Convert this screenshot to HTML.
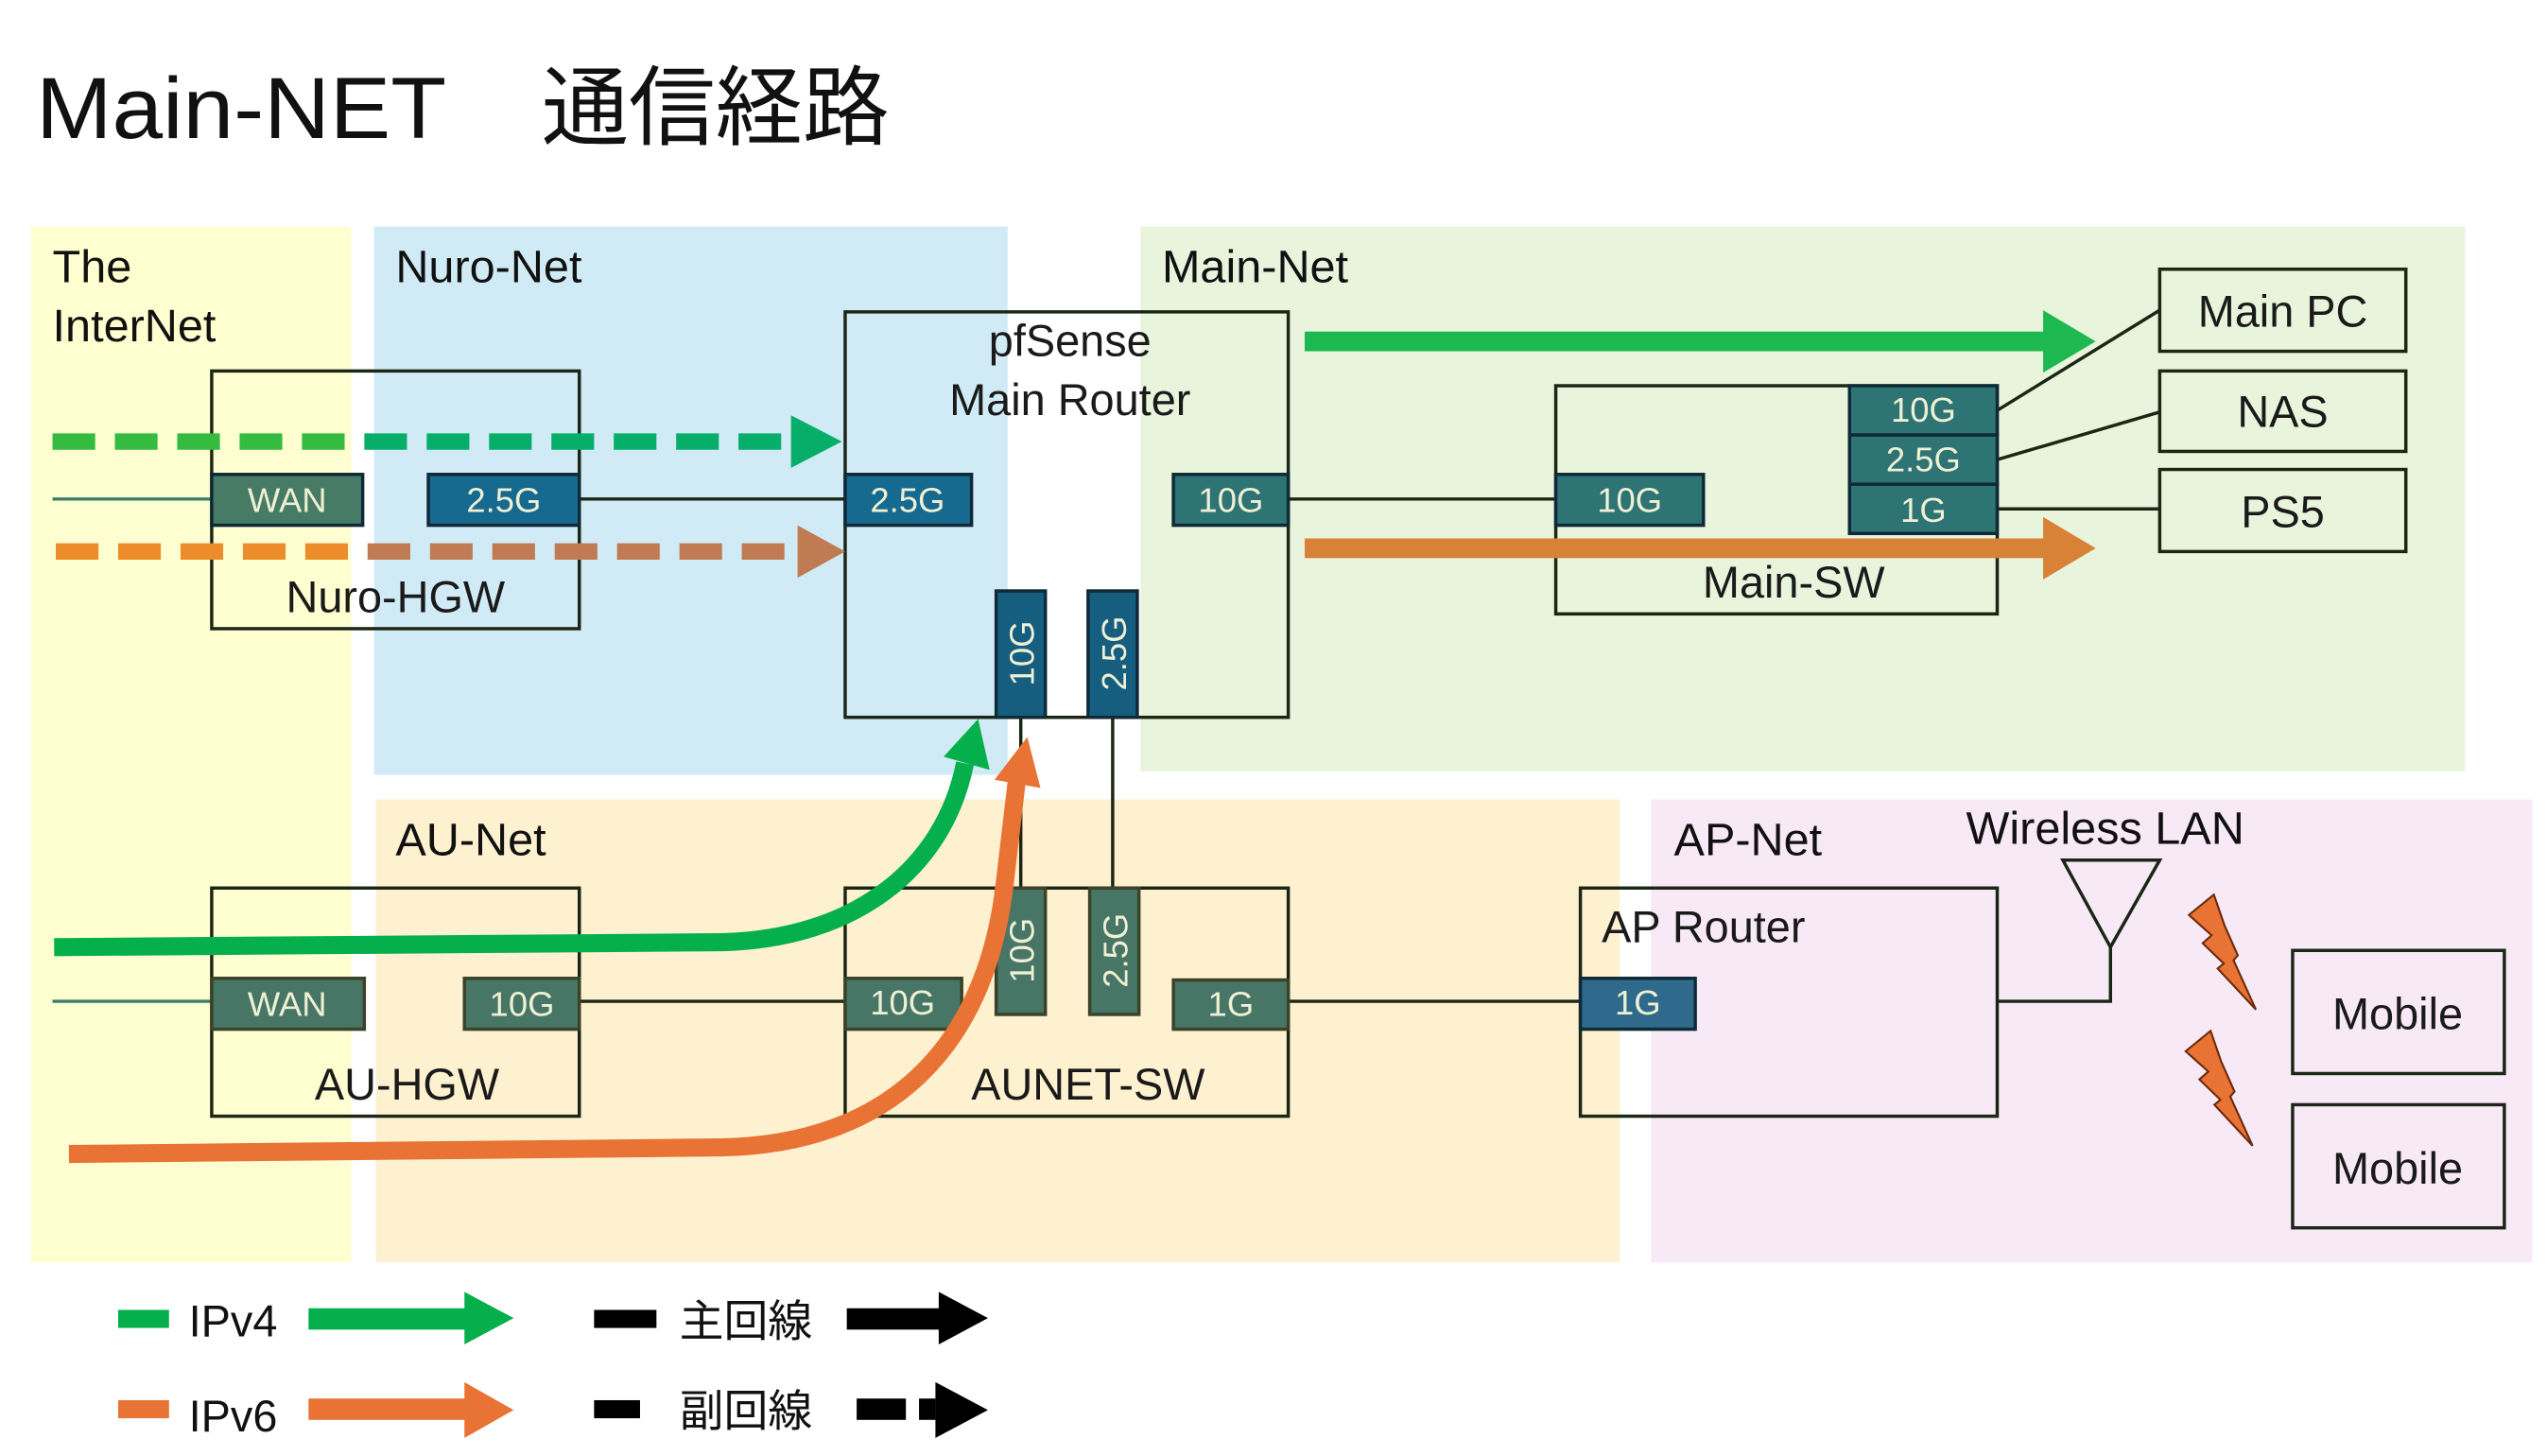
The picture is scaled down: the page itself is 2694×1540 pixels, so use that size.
<!DOCTYPE html>
<html><head><meta charset="utf-8"><style>
html,body{margin:0;padding:0;background:#fff;}
svg{display:block;}
text{font-family:"Liberation Sans","Noto Sans CJK JP",sans-serif;}
</style></head><body>
<svg width="2694" height="1540" viewBox="0 0 1552 887" preserveAspectRatio="none" xmlns="http://www.w3.org/2000/svg">
<defs>
<clipPath id="cy"><rect x="0" y="0" width="214" height="887"/></clipPath>
<clipPath id="cb"><rect x="214" y="0" width="1400" height="887"/></clipPath>
</defs>
<!-- title -->
<text x="22" y="84" font-size="53" fill="#111" textLength="250" lengthAdjust="spacingAndGlyphs">Main-NET</text>
<text x="330" y="84" font-size="53" fill="#111" textLength="212" lengthAdjust="spacingAndGlyphs">通信経路</text>
<!-- zones -->
<rect x="19" y="138" width="195" height="631" fill="#fefed0"/>
<rect x="228" y="138" width="386" height="334" fill="#d0ebf6"/>
<rect x="695" y="138" width="807" height="332" fill="#e8f4dc"/>
<rect x="229" y="487" width="758" height="282" fill="#fdf1d0"/>
<rect x="1006" y="487" width="537" height="282" fill="#f8e9f7"/>
<g font-size="28" fill="#111">
<text x="32" y="172">The</text>
<text x="32" y="208">InterNet</text>
<text x="241" y="172">Nuro-Net</text>
<text x="708" y="172">Main-Net</text>
<text x="241" y="521">AU-Net</text>
<text x="1020" y="521">AP-Net</text>
<text x="1198" y="514">Wireless LAN</text>
</g>
<!-- connection lines -->
<g stroke="#1c2616" stroke-width="2" fill="none">
<line x1="32" y1="304" x2="129" y2="304" stroke="#3f7d6a"/>
<line x1="353" y1="304" x2="515" y2="304"/>
<line x1="785" y1="304" x2="948" y2="304"/>
<line x1="32" y1="610" x2="129" y2="610" stroke="#3f7d6a"/>
<line x1="353" y1="610" x2="515" y2="610"/>
<line x1="785" y1="610" x2="963" y2="610"/>
<line x1="622" y1="437" x2="622" y2="541"/>
<line x1="678" y1="437" x2="678" y2="541"/>
<line x1="1217" y1="250" x2="1316" y2="189"/>
<line x1="1217" y1="280" x2="1316" y2="251"/>
<line x1="1217" y1="310" x2="1316" y2="310"/>
<polyline points="1217,610 1286,610 1286,577"/>
<polygon points="1257,524 1316,524 1286,577"/>
</g>
<!-- boxes -->
<g stroke="#1c2616" stroke-width="2" fill="none">
<rect x="129" y="226" width="224" height="157"/>
<rect x="515" y="190" width="270" height="247"/>
<rect x="948" y="235" width="269" height="139"/>
<rect x="1316" y="164" width="150" height="50"/>
<rect x="1316" y="226" width="150" height="49"/>
<rect x="1316" y="286" width="150" height="50"/>
<rect x="129" y="541" width="224" height="139"/>
<rect x="515" y="541" width="270" height="139"/>
<rect x="963" y="541" width="254" height="139"/>
<rect x="1397" y="579" width="129" height="75"/>
<rect x="1397" y="673" width="129" height="75"/>
</g>
<g font-size="27" fill="#1a1a1a" text-anchor="middle">
<text x="241" y="373">Nuro-HGW</text>
<text x="652" y="217">pfSense</text>
<text x="652" y="253">Main Router</text>
<text x="1093" y="364">Main-SW</text>
<text x="1391" y="199">Main PC</text>
<text x="1391" y="260">NAS</text>
<text x="1391" y="321">PS5</text>
<text x="248" y="670">AU-HGW</text>
<text x="663" y="670">AUNET-SW</text>
<text x="1461" y="627">Mobile</text>
<text x="1461" y="721">Mobile</text>
<text x="976" y="574" text-anchor="start">AP Router</text>
</g>
<!-- ports -->
<g stroke="#0f2a36" stroke-width="2">
<rect x="129" y="289" width="92" height="31" fill="#477b66"/>
<rect x="261" y="289" width="92" height="31" fill="#166a8f"/>
<rect x="515" y="289" width="77" height="31" fill="#166a8f"/>
<rect x="715" y="289" width="70" height="31" fill="#2e7474"/>
<rect x="607" y="360" width="30" height="77" fill="#165e80"/>
<rect x="663" y="360" width="30" height="77" fill="#165e80"/>
<rect x="948" y="289" width="90" height="31" fill="#2e7474"/>
<rect x="1127" y="235" width="90" height="30" fill="#2e7474"/>
<rect x="1127" y="265" width="90" height="30" fill="#2e7474"/>
<rect x="1127" y="295" width="90" height="30" fill="#2e7474"/>
<rect x="963" y="596" width="70" height="31" fill="#2f6a8c"/>
</g>
<g stroke="#3a4228" stroke-width="2" fill="#477566">
<rect x="129" y="596" width="93" height="31"/>
<rect x="283" y="596" width="70" height="31"/>
<rect x="515" y="596" width="71" height="31"/>
<rect x="607" y="541" width="30" height="77"/>
<rect x="664" y="541" width="30" height="77"/>
<rect x="715" y="597" width="70" height="30"/>
</g>
<g font-size="21" fill="#eef0d4" text-anchor="middle">
<text x="175" y="312">WAN</text>
<text x="307" y="312">2.5G</text>
<text x="553" y="312">2.5G</text>
<text x="750" y="312">10G</text>
<text x="993" y="312">10G</text>
<text x="1172" y="257">10G</text>
<text x="1172" y="287">2.5G</text>
<text x="1172" y="318">1G</text>
<text x="998" y="618">1G</text>
<text x="175" y="619">WAN</text>
<text x="318" y="619">10G</text>
<text x="550" y="618">10G</text>
<text x="750" y="619">1G</text>
<text transform="translate(630,398) rotate(-90)">10G</text>
<text transform="translate(686,398) rotate(-90)">2.5G</text>
<text transform="translate(630,579) rotate(-90)">10G</text>
<text transform="translate(687,579) rotate(-90)">2.5G</text>
</g>
<!-- dashed arrows top-left -->
<g stroke-width="10" stroke-dasharray="26,12" fill="none">
<line x1="32" y1="269" x2="482" y2="269" stroke="#34bb40" clip-path="url(#cy)"/>
<line x1="32" y1="269" x2="482" y2="269" stroke="#06ae6a" clip-path="url(#cb)"/>
<line x1="34" y1="336" x2="484" y2="336" stroke="#ec8c2a" clip-path="url(#cy)"/>
<line x1="34" y1="336" x2="484" y2="336" stroke="#c07b53" clip-path="url(#cb)"/>
</g>
<polygon points="482,253 513,269 482,285" fill="#06ae6a"/>
<polygon points="486,320 515,336 486,352" fill="#c07b53"/>
<!-- main-net arrows -->
<rect x="795" y="202" width="452" height="12" fill="#1eb851"/>
<polygon points="1245,189 1277,208 1245,227" fill="#1eb851"/>
<rect x="795" y="328" width="452" height="12" fill="#d88238"/>
<polygon points="1245,315 1277,334 1245,353" fill="#d88238"/>
<!-- curved arrows -->
<path d="M33,577 L440,574 C520,572 575,530 588,465" stroke="#05b04c" stroke-width="11" fill="none"/>
<polygon points="596,438 575,461 603,469" fill="#05b04c"/>
<path d="M42,703 L440,699 C540,697 600,640 612,540 L620,472" stroke="#e87334" stroke-width="11" fill="none"/>
<polygon points="626,449 606,475 634,480" fill="#e87334"/>
<!-- lightning -->
<g fill="#e87334" stroke="#6a2a0a" stroke-width="1.2">
<polygon points="1349,545 1355.6,564 1363.6,582 1361,585 1374.6,615 1351.3,590 1355,587 1342.2,574.6 1347.6,569.8 1333.8,557.4"/>
<polygon points="1347,628 1353.6,647 1361.6,665 1359,668 1372.6,698 1349.3,673 1353,670 1340.2,657.6 1345.6,652.8 1331.8,640.4"/>
</g>
<!-- legend -->
<rect x="72" y="798" width="31" height="11" fill="#05b04c"/>
<text x="115" y="814" font-size="27" fill="#111">IPv4</text>
<rect x="188" y="797" width="96" height="13" fill="#05b04c"/>
<polygon points="283,787 313,803 283,819" fill="#05b04c"/>
<rect x="362" y="798" width="38" height="11" fill="#000"/>
<text x="414" y="814" font-size="27" fill="#111">主回線</text>
<rect x="516" y="797" width="58" height="13" fill="#000"/>
<polygon points="572,787 602,803 572,819" fill="#000"/>
<rect x="72" y="853" width="31" height="11" fill="#e87334"/>
<text x="115" y="872" font-size="27" fill="#111">IPv6</text>
<rect x="188" y="852" width="96" height="13" fill="#e87334"/>
<polygon points="283,842 313,859 283,876" fill="#e87334"/>
<rect x="362" y="853" width="28" height="11" fill="#000"/>
<text x="414" y="869" font-size="27" fill="#111">副回線</text>
<rect x="522" y="852" width="30" height="13" fill="#000"/>
<rect x="560" y="852" width="10" height="13" fill="#000"/>
<polygon points="570,842 602,859 570,876" fill="#000"/>
</svg>
</body></html>
